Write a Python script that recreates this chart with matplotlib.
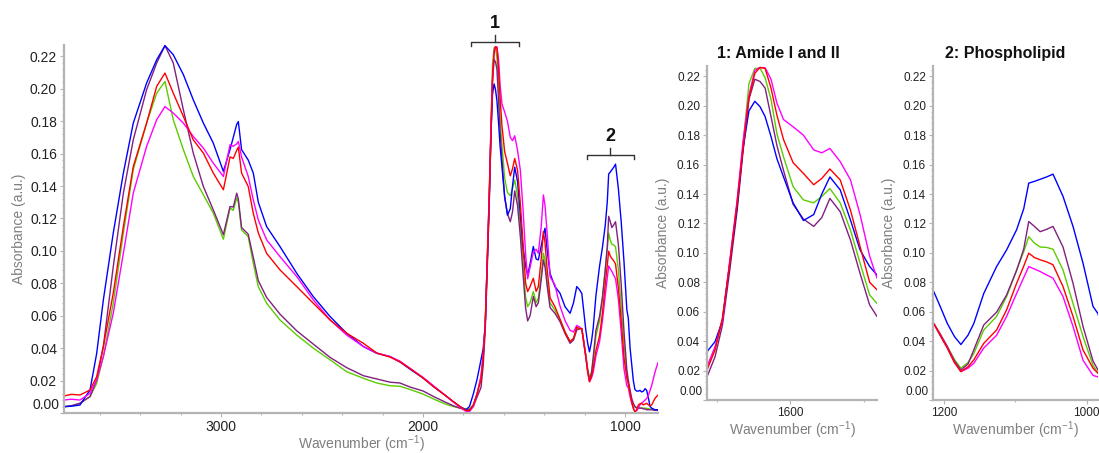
"""
FTIR absorbance spectra of five samples: full range plus two zoomed regions
(1: Amide I and II, 2: Phospholipid).
"""

import matplotlib
matplotlib.use("Agg")
import matplotlib.pyplot as plt
from matplotlib.ticker import MultipleLocator, FuncFormatter

plt.rcParams["font.family"] = ["Liberation Sans", "DejaVu Sans"]
plt.rcParams["mathtext.default"] = "regular"

# ── data ─────────────────────────────────────────────────────────────────────
WAVENUMBER = [
    3777, 3740, 3698, 3648, 3615, 3582, 3533, 3483, 3434, 3368, 3318, 3277, 3236, 3186, 3137, 3087, 3038,
    2988, 2955, 2939, 2922, 2914, 2898, 2865, 2840, 2815, 2774, 2708, 2625, 2543, 2460, 2378, 2295, 2229, 2163,
    2114, 2064, 2000, 1945, 1891, 1850, 1817, 1787, 1770, 1751, 1732,
    1713, 1702, 1692, 1682, 1672, 1664, 1656, 1648, 1641, 1634, 1626, 1618, 1609, 1596, 1582, 1568, 1557, 1546,
    1532, 1518, 1505, 1492, 1482,
    1470, 1454, 1440, 1429, 1415, 1404, 1396, 1385, 1371, 1347, 1322, 1297, 1272, 1255, 1239, 1225,
    1214, 1205, 1195, 1185, 1176, 1166, 1158, 1144, 1126, 1112, 1098, 1088, 1081, 1073, 1065, 1056, 1047, 1033,
    1019, 1005, 991, 984,
    975, 967, 959, 951, 942, 934, 926, 918, 909, 901, 893, 884, 876, 868, 860, 852, 845, 837,
]

BLUE = [
    0.0039, 0.0042, 0.0049, 0.0142, 0.0368, 0.0698, 0.111, 0.148, 0.1788, 0.2035, 0.2179, 0.2266, 0.221, 0.2087, 0.1932, 0.1788, 0.1665,
    0.149, 0.1625, 0.170, 0.178, 0.1798, 0.1625, 0.156, 0.148, 0.130, 0.115, 0.1027, 0.0862, 0.0718, 0.0595, 0.0492, 0.041, 0.0368, 0.0348,
    0.0315, 0.027, 0.0216, 0.016, 0.011, 0.007, 0.004, 0.002, 0.004, 0.0117, 0.021,
    0.0328, 0.0397, 0.0539, 0.093, 0.1315, 0.171, 0.1965, 0.203, 0.1994, 0.1926, 0.179, 0.164, 0.1516, 0.134, 0.122, 0.126, 0.140, 0.1516,
    0.1428, 0.1222, 0.102, 0.0907, 0.085,
    0.092, 0.1027, 0.095, 0.0944, 0.103, 0.110, 0.114, 0.100, 0.086, 0.078, 0.0739, 0.0656, 0.0615, 0.068, 0.078, 0.076,
    0.0737, 0.0636, 0.052, 0.0431, 0.0377, 0.0441, 0.0519, 0.0724, 0.0907, 0.102, 0.1157, 0.130, 0.1474, 0.1486, 0.150, 0.1516, 0.1535, 0.1384,
    0.118, 0.093, 0.0636, 0.0587,
    0.040, 0.030, 0.020, 0.0145, 0.0135, 0.0135, 0.014, 0.013, 0.0135, 0.015, 0.014, 0.009, 0.004, 0.003, 0.0025, 0.002, 0.002, 0.002,
]

PURPLE = [
    0.0039, 0.0045, 0.006, 0.0101, 0.0204, 0.041, 0.0903, 0.1356, 0.1685, 0.1994, 0.2159, 0.2266, 0.2159, 0.187, 0.1603, 0.1397, 0.1253,
    0.110, 0.1274, 0.127, 0.1356, 0.132, 0.1144, 0.1103, 0.096, 0.0816, 0.0713, 0.061, 0.0507, 0.0425, 0.0343, 0.028, 0.023, 0.021, 0.019,
    0.0185, 0.016, 0.0136, 0.010, 0.0068, 0.0045, 0.003, 0.002, 0.002, 0.004, 0.010,
    0.0157, 0.0294, 0.0509, 0.0884, 0.129, 0.169, 0.2043, 0.218, 0.2165, 0.212, 0.1926, 0.173, 0.156, 0.133, 0.123, 0.118, 0.124, 0.137,
    0.128, 0.1086, 0.086, 0.0646, 0.0568,
    0.060, 0.0718, 0.0656, 0.068, 0.082, 0.0944, 0.090, 0.078, 0.065, 0.0615, 0.0564, 0.049, 0.043, 0.045, 0.0512, 0.052,
    0.052, 0.045, 0.0363, 0.0265, 0.0204, 0.0245, 0.034, 0.051, 0.0597, 0.0714, 0.088, 0.1027, 0.1213, 0.118, 0.1144, 0.116, 0.118, 0.104,
    0.0793, 0.050, 0.0265, 0.0204,
    0.014, 0.009, 0.006, 0.004, 0.003, 0.003, 0.003, 0.003, 0.0025, 0.0025, 0.002, 0.002, 0.002, 0.002, 0.0018, 0.0017, 0.0016, 0.0016,
]

RED = [
    0.0105, 0.0115, 0.0111, 0.0142, 0.0224, 0.041, 0.0739, 0.115, 0.152, 0.1788, 0.2015, 0.2097, 0.1973, 0.1829, 0.1685, 0.1603, 0.148,
    0.1377, 0.158, 0.157, 0.162, 0.164, 0.148, 0.1397, 0.1232, 0.111, 0.0985, 0.0883, 0.078, 0.0677, 0.0574, 0.0492, 0.043, 0.037, 0.0345,
    0.0315, 0.0275, 0.0216, 0.016, 0.011, 0.007, 0.004, 0.0015, 0.0015, 0.005, 0.012,
    0.0204, 0.034, 0.0558, 0.093, 0.134, 0.171, 0.2053, 0.222, 0.226, 0.2253, 0.212, 0.1936, 0.177, 0.1613, 0.154, 0.1463, 0.1506, 0.157,
    0.1496, 0.129, 0.1043, 0.080, 0.0749,
    0.078, 0.0831, 0.075, 0.078, 0.095, 0.112, 0.105, 0.088, 0.071, 0.0656, 0.058, 0.050, 0.044, 0.046, 0.053, 0.052,
    0.052, 0.044, 0.0353, 0.0255, 0.0193, 0.0226, 0.0272, 0.0385, 0.0476, 0.0613, 0.0793, 0.091, 0.0998, 0.0968, 0.0953, 0.0939, 0.0919, 0.0771,
    0.0568, 0.034, 0.0216, 0.0182,
    0.012, 0.007, 0.003, 0.0005, 0.002, 0.005, 0.0057, 0.006, 0.005, 0.0055, 0.006, 0.005, 0.0045, 0.005, 0.007, 0.009, 0.010, 0.011,
]

GREEN = [
    0.0039, 0.0042, 0.006, 0.0101, 0.0183, 0.0348, 0.0677, 0.111, 0.1501, 0.1788, 0.1973, 0.2045, 0.1809, 0.1624, 0.1459, 0.1346, 0.1233,
    0.1072, 0.1264, 0.125, 0.1326, 0.130, 0.1129, 0.1088, 0.0923, 0.0779, 0.0677, 0.0574, 0.0481, 0.040, 0.0328, 0.0255, 0.0214, 0.0185, 0.0168,
    0.0165, 0.0145, 0.0117, 0.0085, 0.0056, 0.004, 0.003, 0.0025, 0.0025, 0.005, 0.012,
    0.0226, 0.0353, 0.0548, 0.093, 0.134, 0.173, 0.215, 0.2253, 0.2256, 0.219, 0.2043, 0.181, 0.1652, 0.145, 0.136, 0.134, 0.1384, 0.1437,
    0.134, 0.1154, 0.093, 0.0714, 0.0656,
    0.068, 0.0749, 0.068, 0.071, 0.085, 0.0985, 0.094, 0.080, 0.068, 0.0635, 0.0574, 0.050, 0.044, 0.046, 0.0523, 0.052,
    0.052, 0.044, 0.0363, 0.0275, 0.0216, 0.0255, 0.0314, 0.0476, 0.0568, 0.0703, 0.0884, 0.1008, 0.111, 0.1066, 0.104, 0.1037, 0.1025, 0.0884,
    0.0656, 0.0431, 0.0236, 0.0182,
    0.012, 0.008, 0.005, 0.0035, 0.0035, 0.0035, 0.003, 0.003, 0.003, 0.003, 0.0028, 0.0026, 0.0025, 0.0024, 0.0022, 0.002, 0.002, 0.002,
]

MAGENTA = [
    0.008, 0.0085, 0.008, 0.0121, 0.0204, 0.0348, 0.0615, 0.0985, 0.1356, 0.1644, 0.1809, 0.189, 0.185, 0.1788, 0.1706, 0.1634, 0.1541,
    0.1459, 0.1655, 0.1645, 0.166, 0.1675, 0.158, 0.1459, 0.1315, 0.119, 0.1068, 0.0965, 0.0842, 0.0698, 0.0574, 0.0481, 0.041, 0.037, 0.0348,
    0.032, 0.0275, 0.022, 0.0165, 0.011, 0.0068, 0.0035, 0.001, 0.0008, 0.004, 0.012,
    0.0226, 0.0363, 0.0539, 0.095, 0.136, 0.176, 0.207, 0.224, 0.226, 0.2258, 0.218, 0.2018, 0.1906, 0.1857, 0.180, 0.170, 0.168, 0.171,
    0.162, 0.1496, 0.126, 0.0978, 0.0828,
    0.090, 0.099, 0.101, 0.0985, 0.115, 0.1345, 0.128, 0.110, 0.084, 0.079, 0.066, 0.057, 0.051, 0.050, 0.054, 0.053,
    0.052, 0.044, 0.0353, 0.0255, 0.0193, 0.0216, 0.0249, 0.0353, 0.044, 0.0568, 0.0724, 0.0832, 0.0907, 0.089, 0.0873, 0.085, 0.0828, 0.0703,
    0.050, 0.027, 0.0167, 0.0157,
    0.010, 0.006, 0.003, 0.001, 0.0015, 0.003, 0.005, 0.006, 0.007, 0.008, 0.009, 0.011, 0.014, 0.017, 0.021, 0.025, 0.028, 0.031,
]

# drawing order: last one ends up on top
SERIES = [
    (GREEN,   "#5ccc00"),
    (PURPLE,  "#802080"),
    (BLUE,    "#0000ff"),
    (MAGENTA, "#ff00ff"),
    (RED,     "#ff0000"),
]

# region brackets on the full spectrum
BRACKET_LABELS = ["1", "2"]
BRACKET_FROM   = [1760, 1190]
BRACKET_TO     = [1525, 954]
BRACKET_Y      = [0.2286, 0.159]

PANEL_TITLES = ["1: Amide I and II", "2: Phospholipid"]
PANEL_XLIM   = [(1713, 1482), (1215, 984)]

for s, _ in SERIES:
    assert len(s) == len(WAVENUMBER)

# ── style ────────────────────────────────────────────────────────────────────
SPINE   = "#b4b4b4"
TXT     = "#222222"
LABEL   = "#7f7f7f"
YMAX    = 0.227
XLABEL  = r"Wavenumber (cm$^{-1}$)"
YLABEL  = "Absorbance (a.u.)"


def style_axes(ax, tick_size, xpad, ypad):
    for side in ("top", "right"):
        ax.spines[side].set_visible(False)
    for side in ("left", "bottom"):
        ax.spines[side].set_color(SPINE)
        ax.spines[side].set_linewidth(1.6)
    ax.tick_params(which="both", direction="out", color=SPINE, labelcolor=TXT,
                   labelsize=tick_size, width=0.8)
    ax.tick_params(which="major", length=3, pad=2)
    ax.tick_params(which="minor", length=1.5)
    ax.set_ylim(0, YMAX)
    ax.yaxis.set_major_locator(MultipleLocator(0.02))
    ax.yaxis.set_minor_locator(MultipleLocator(0.004))
    # "0.00" sits a little above the axis line in the original
    ax.yaxis.set_major_formatter(FuncFormatter(lambda v, p: "" if abs(v) < 1e-9 else f"{v:.2f}"))
    ax.annotate("0.00", xy=(0, 0), xycoords=("axes fraction", "data"),
                xytext=(-3.5, 6), textcoords="offset points",
                ha="right", va="center", fontsize=tick_size, color=TXT)
    ax.set_xlabel(XLABEL, color=LABEL, fontsize=10, labelpad=xpad)
    ax.set_ylabel(YLABEL, color=LABEL, fontsize=10, labelpad=ypad)


def draw_spectra(ax):
    for values, color in SERIES:
        ax.plot(WAVENUMBER, values, color=color, linewidth=1.0)


fig = plt.figure(figsize=(10.99, 4.53), dpi=100)

# full spectrum
ax_main = fig.add_axes([0.0582, 0.0883, 0.5405, 0.8124])
draw_spectra(ax_main)
ax_main.set_xlim(3777, 837)
ax_main.xaxis.set_major_locator(MultipleLocator(1000))
ax_main.xaxis.set_minor_locator(MultipleLocator(200))
style_axes(ax_main, 10, xpad=-0.5, ypad=3)

for label, x1, x2, y in zip(BRACKET_LABELS, BRACKET_FROM, BRACKET_TO, BRACKET_Y):
    xm = (x1 + x2) / 2
    ax_main.plot([x1, x1, x2, x2], [y - 0.0025, y, y, y - 0.0025],
                 color="#333333", linewidth=1.0, clip_on=False)
    ax_main.plot([xm, xm], [y, y + 0.0045], color="#333333", linewidth=1.0, clip_on=False)
    ax_main.annotate(label, xy=(xm, y + 0.0045), xytext=(0, 2), textcoords="offset points",
                     ha="center", va="bottom", fontsize=13, fontweight="bold",
                     color="#111111", annotation_clip=False)

# zoomed regions
panel_boxes = [[0.6433, 0.117, 0.1547, 0.7373], [0.849, 0.117, 0.1501, 0.7373]]
title_x = [0.42, 0.44]
for box, title, xlim, tx in zip(panel_boxes, PANEL_TITLES, PANEL_XLIM, title_x):
    ax = fig.add_axes(box)
    draw_spectra(ax)
    ax.set_xlim(*xlim)
    ax.xaxis.set_major_locator(MultipleLocator(200))
    ax.xaxis.set_minor_locator(MultipleLocator(100))
    style_axes(ax, 8.5, xpad=0, ypad=5)
    ax.set_title(title, fontsize=11.5, fontweight="bold", color="#111111", x=tx, pad=6)

fig.savefig("out.png", dpi=100)
plt.close(fig)
